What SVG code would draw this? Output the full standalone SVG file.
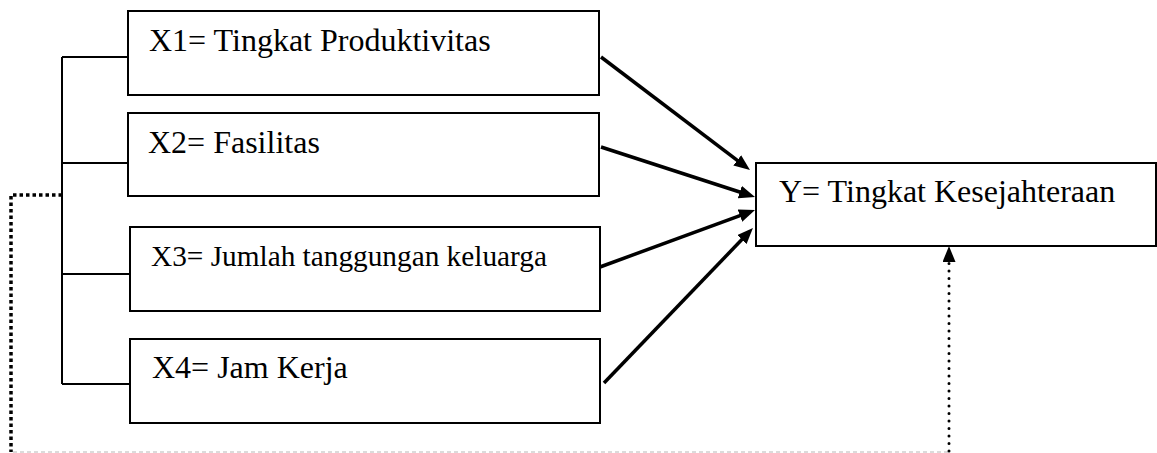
<svg xmlns="http://www.w3.org/2000/svg" width="1157" height="453" viewBox="0 0 1157 453">
  <style>
    .box { fill: #fff; stroke: #000; stroke-width: 2; }
    .lbl { font-family: 'Liberation Serif', 'DejaVu Serif', serif; font-size: 32px; fill: #000; }
    .arrow { stroke: #000; stroke-width: 3.5; fill: none; }
    .brk { stroke: #000; stroke-width: 2; fill: none; }
    .sqdot { stroke: #000; stroke-width: 3.5; fill: none; stroke-dasharray: 3.5 3; }
    .rnddot { stroke: #000; stroke-width: 3; fill: none; stroke-dasharray: 0 7.5; stroke-linecap: round; }
    .faint { stroke: #cfcfcf; stroke-width: 1.5; fill: none; stroke-dasharray: 4 3; }
  </style>
  <defs>
    <marker id="ah" markerUnits="userSpaceOnUse" markerWidth="17" markerHeight="14" refX="8" refY="6.5" orient="auto">
      <path d="M0,0 L16,6.5 L0,13 z" fill="#000" stroke="none"/>
    </marker>
  </defs>
  <rect width="1157" height="453" fill="#fff"/>

  <g id="connectors">
    <path class="brk" d="M62,57 V384 M62,57 H128 M62,163 H128 M62,274 H130 M62,384 H130"/>
    <path class="sqdot" d="M62,195 H11 V452"/>
    <path class="faint" d="M13,452 H949"/>
    <path class="rnddot" d="M949,451 V256"/>
    <line x1="949" y1="258" x2="949" y2="254" stroke="#000" stroke-width="2" marker-end="url(#ah)"/>
    <line class="arrow" x1="601" y1="57" x2="743.6" y2="165.2" marker-end="url(#ah)"/>
    <line class="arrow" x1="601" y1="147" x2="747.4" y2="194.5" marker-end="url(#ah)"/>
    <line class="arrow" x1="600" y1="267" x2="747.5" y2="212.8" marker-end="url(#ah)"/>
    <line class="arrow" x1="604" y1="383" x2="747.4" y2="233.8" marker-end="url(#ah)"/>
  </g>

  <g id="x1">
    <rect class="box" x="128" y="11" width="471" height="84"/>
    <text class="lbl" x="149" y="51" font-family="Liberation Serif, serif">X1= Tingkat Produktivitas</text>
  </g>
  <g id="x2">
    <rect class="box" x="128" y="113" width="471" height="83"/>
    <text class="lbl" x="148" y="153">X2= Fasilitas</text>
  </g>
  <g id="x3">
    <rect class="box" x="130" y="227" width="470" height="84"/>
    <text class="lbl" x="151" y="266" style="font-size:29.3px">X3= Jumlah tanggungan keluarga</text>
  </g>
  <g id="x4">
    <rect class="box" x="130" y="339" width="470" height="84"/>
    <text class="lbl" x="152" y="378">X4= Jam Kerja</text>
  </g>
  <g id="y">
    <rect class="box" x="756" y="163" width="400" height="83"/>
    <text class="lbl" x="779" y="202">Y= Tingkat Kesejahteraan</text>
  </g>
</svg>
